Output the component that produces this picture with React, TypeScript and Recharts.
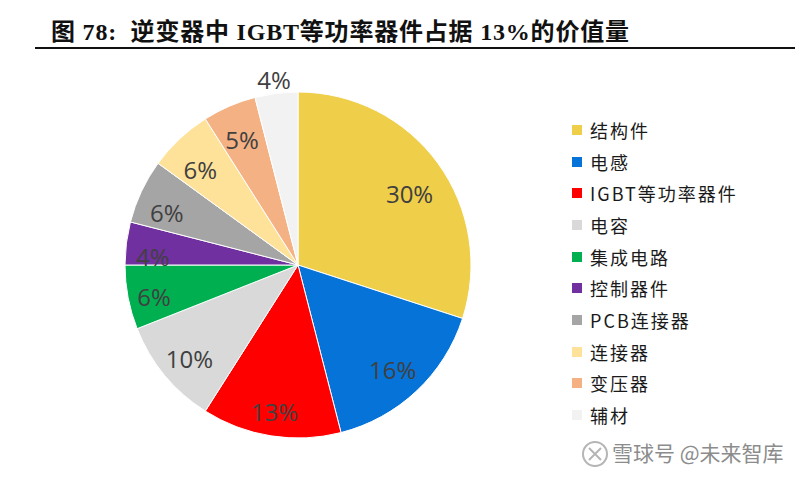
import React from 'react';
import { PieChart, Pie, Cell, Legend } from 'recharts';

const categories = ['结构件', '电感', 'IGBT等功率器件', '电容', '集成电路', '控制器件', 'PCB连接器', '连接器', '变压器', '辅材'];
const shares = [30, 16, 13, 10, 6, 4, 6, 6, 5, 4];
const colors = ['#EFCE4A', '#0573D8', '#FF0000', '#D9D9D9', '#00B050', '#7030A0', '#A5A5A5', '#FFE299', '#F4B183', '#F2F2F2'];

// hand placed label nudges, same as the moved labels in the original
const labelNudge = [
  [1, 9], [0, 4], [-2, 10], [-2, 5], [-8, 6],
  [-1, 10], [-6, 6], [-3, 5], [-1, 2], [0, 3],
];
const labelRadius = [0.79, 0.8, 0.8, 0.8, 0.8, 0.84, 0.8, 0.8, 0.8, 1.1];

const data = categories.map((name, i) => ({ name, value: shares[i] }));

const RADIAN = Math.PI / 180;

const PctLabel = ({ cx, cy, midAngle, outerRadius, index, value }: any) => {
  const r = outerRadius * labelRadius[index];
  const x = cx + r * Math.cos(-midAngle * RADIAN) + labelNudge[index][0];
  const y = cy + r * Math.sin(-midAngle * RADIAN) + labelNudge[index][1];
  return (
    <text
      x={x}
      y={y}
      textAnchor="middle"
      dominantBaseline="central"
      fill="#404040"
      fontSize={24}
      fontFamily="'Open Sans', 'Noto Sans', sans-serif"
    >
      {value}%
    </text>
  );
};

const LegendList = ({ payload }: any) => (
  <div>
    {payload.map((item: any) => (
      <div key={item.value} style={{ display: 'flex', alignItems: 'center', height: 31.7 }}>
        <span style={{ width: 10, height: 10, background: item.color, marginRight: 8, flexShrink: 0 }} />
        <span
          style={{
            fontSize: 18,
            letterSpacing: 2,
            color: '#1a1a1a',
            whiteSpace: 'nowrap',
            fontFamily: "'Noto Sans CJK SC', sans-serif",
          }}
        >
          {item.value}
        </span>
      </div>
    ))}
  </div>
);

export default function App() {
  return (
    <div style={{ position: 'absolute', left: 0, top: 0, width: 800, height: 479, background: '#fff', overflow: 'hidden' }}>
      <div
        style={{
          position: 'absolute',
          left: 51,
          top: 12,
          fontSize: 24,
          letterSpacing: 0.8,
          fontWeight: 700,
          color: '#111',
          whiteSpace: 'nowrap',
          fontFamily: "'Liberation Serif', 'Noto Sans CJK SC', serif",
        }}
      >
        图 78:&nbsp; 逆变器中 IGBT等功率器件占据 13%的价值量
      </div>
      <div style={{ position: 'absolute', left: 35, top: 47, width: 760, height: 2, background: '#111' }} />

      <PieChart
        width={800}
        height={479}
        margin={{ top: 0, right: 0, bottom: 0, left: 0 }}
        style={{ position: 'absolute', left: 0, top: 0 }}
      >
        <Pie
          data={data}
          dataKey="value"
          nameKey="name"
          cx={298}
          cy={265}
          outerRadius={173}
          startAngle={90}
          endAngle={-270}
          stroke="#fff"
          strokeWidth={1}
          label={PctLabel}
          labelLine={false}
          isAnimationActive={false}
        >
          {data.map((d, i) => (
            <Cell key={d.name} fill={colors[i]} />
          ))}
        </Pie>
        <Legend
          layout="vertical"
          content={LegendList}
          itemSorter={null}
          wrapperStyle={{ position: 'absolute', left: 572, top: 114, width: 220 }}
        />
      </PieChart>

      <div
        style={{
          position: 'absolute',
          left: 612,
          top: 437,
          fontSize: 21,
          color: '#8c8c8c',
          whiteSpace: 'nowrap',
          fontFamily: "'Noto Sans CJK SC', sans-serif",
          textShadow: '1px 1px 0 #fff',
        }}
      >
        雪球号 @未来智库
      </div>
      <svg width={30} height={30} style={{ position: 'absolute', left: 580, top: 439 }}>
        <circle cx={15} cy={15} r={12} fill="none" stroke="#b5b5b5" strokeWidth={2} />
        <path d="M9 9 L15 15 L9 21 M21 9 L15 15 L21 21" fill="none" stroke="#b5b5b5" strokeWidth={2} />
      </svg>
    </div>
  );
}
